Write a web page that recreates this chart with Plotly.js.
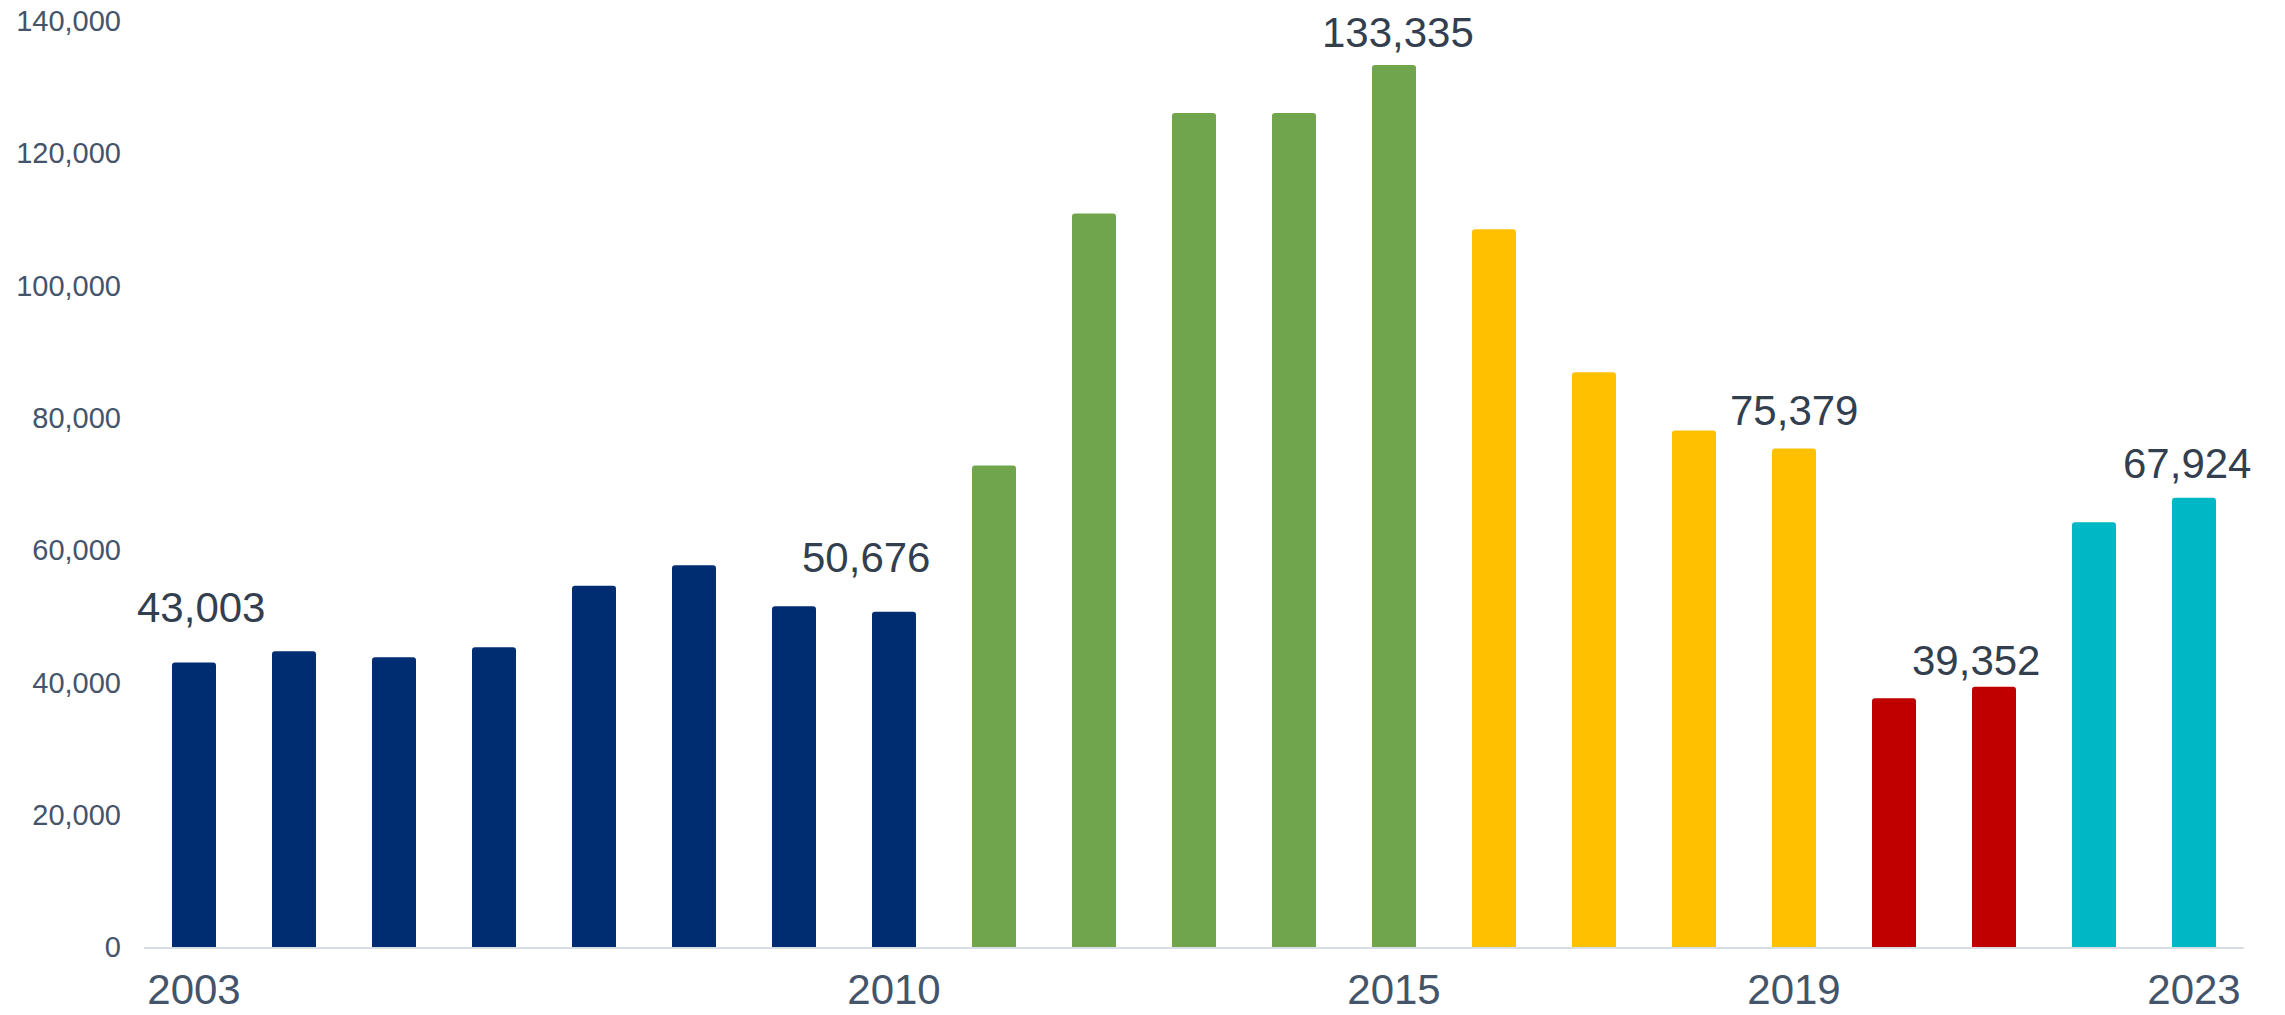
<!DOCTYPE html>
<html>
<head>
<meta charset="utf-8">
<script src="https://cdn.plot.ly/plotly-3.0.1.min.js"></script>
<style>
  html, body { margin: 0; padding: 0; background: #ffffff; }
  #chart { width: 2285px; height: 1015px; }
</style>
</head>
<body>
<div id="chart"></div>
<script>
// ---- data ----
const years = [2003, 2004, 2005, 2006, 2007, 2008, 2009, 2010, 2011, 2012, 2013,
               2014, 2015, 2016, 2017, 2018, 2019, 2020, 2021, 2022, 2023];
const values = [43003, 44700, 43800, 45300, 54600, 57700, 51500, 50676, 72800, 110900, 126100,
                126100, 133335, 108500, 86900, 78100, 75379, 37600, 39352, 64200, 67924];
const tickYears = [2003, 2010, 2015, 2019, 2023];
const tickLabels = ["2003", "2010", "2015", "2019", "2023"];
const labelYears = [2003, 2010, 2015, 2019, 2021, 2023];
const labelValues = [43003, 50676, 133335, 75379, 39352, 67924];

// ---- styles ----
const periodEnds = [2010, 2015, 2019, 2021, 2023];
const periodColors = ["#002D72", "#71A54D", "#FFC000", "#C00000", "#00B7C6"];
const labelXShift = [7, -28, 4, 0, -18, -7];
const labelYGap = [55, 54, 33, 38, 26, 34];

const barColors = years.map(y => {
  for (let i = 0; i < periodEnds.length; i++) if (y <= periodEnds[i]) return periodColors[i];
  return periodColors[periodColors.length - 1];
});

const trace = {
  type: 'bar',
  x: years,
  y: values,
  marker: { color: barColors, cornerradius: 3, line: { width: 0 } },
  hoverinfo: 'x+y'
};

const annotations = labelYears.map((yr, i) => ({
  x: yr,
  y: labelValues[i],
  xref: 'x',
  yref: 'y',
  text: labelValues[i].toLocaleString('en-US'),
  showarrow: false,
  xanchor: 'center',
  yanchor: 'middle',
  xshift: labelXShift[i],
  yshift: labelYGap[i],
  font: { family: 'Liberation Sans, Arial, sans-serif', size: 42, color: '#333F4F' }
}));

const layout = {
  width: 2285,
  height: 1015,
  margin: { l: 144, r: 41, t: 21, b: 68 },
  paper_bgcolor: '#ffffff',
  plot_bgcolor: '#ffffff',
  showlegend: false,
  bargap: 0.56,
  font: { family: 'Liberation Sans, Arial, sans-serif', color: '#44546A' },
  xaxis: {
    range: [2002.5, 2023.5],
    tickmode: 'array',
    tickvals: tickYears,
    ticktext: tickLabels,
    tickfont: { size: 42, color: '#44546A' },
    ticks: '',
    ticklabelstandoff: 5,
    showgrid: false,
    zeroline: false,
    showline: true,
    linecolor: '#D9DEE4',
    linewidth: 2,
    layer: 'above traces'
  },
  yaxis: {
    range: [0, 140000],
    tickmode: 'linear',
    tick0: 0,
    dtick: 20000,
    tickformat: ',',
    tickfont: { size: 29, color: '#44546A' },
    ticks: '',
    ticklabelstandoff: 22,
    showgrid: false,
    zeroline: false,
    showline: false
  },
  annotations: annotations
};

Plotly.newPlot('chart', [trace], layout, { displayModeBar: false, staticPlot: true });
</script>
</body>
</html>
